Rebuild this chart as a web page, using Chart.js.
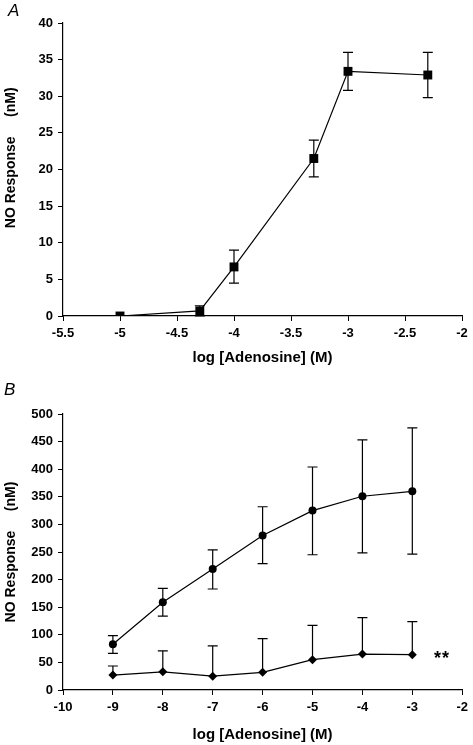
<!DOCTYPE html>
<html>
<head>
<meta charset="utf-8">
<script src="https://cdn.jsdelivr.net/npm/chart.js@4.4.0/dist/chart.umd.min.js"></script>
<style>
  body { margin: 0; background: #fff; width: 473px; height: 745px; position: relative; overflow: hidden; }
  .wrap { position: absolute; left: 0; width: 473px; }
  .lbl { position: absolute; font-family: "Liberation Sans", Arial, sans-serif; color: #000; }
</style>
</head>
<body>
<div class="wrap" style="top:0;height:372px"><canvas id="chartA"></canvas></div>
<div class="wrap" style="top:372px;height:373px"><canvas id="chartB"></canvas></div>
<div class="lbl" style="left:8px;top:1px;font-size:17px;font-style:italic">A</div>
<div class="lbl" style="left:4px;top:380px;font-size:17px;font-style:italic">B</div>
<div class="lbl" style="left:434px;top:648px;font-size:18px;font-weight:bold;letter-spacing:1px">**</div>

<script>
// Panel A data
const doseA = [-5, -4.3, -4, -3.3, -3, -2.3];
const respA = [0, 0.7, 6.7, 21.5, 33.4, 32.9];
const upperA = [0, 1.4, 9, 24, 36, 36];
const lowerA = [0, 0, 4.5, 19, 30.8, 29.8];

// Panel B data
const doseB = [-9, -8, -7, -6, -5, -4, -3];
const respB1 = [83, 159, 219, 280, 325, 351, 360];
const upperB1 = [98.5, 184, 254, 332, 404, 453, 475];
const lowerB1 = [66.5, 134, 183, 229, 245, 248.5, 246];
const respB2 = [27, 33, 25, 32, 55, 65, 64];
const upperB2 = [43.5, 71, 80, 93, 117, 131, 124];

const xTitle = "log [Adenosine] (M)";
const yTitle = "NO Response     (nM)";

const FONT = "'Liberation Sans', Arial, sans-serif";

// draws the error bars under the markers
const errorBars = {
    id: "errorBars",
    beforeDatasetsDraw(chart) {
        let ctx = chart.ctx;
        let xs = chart.scales.x, ys = chart.scales.y;
        ctx.save();
        ctx.strokeStyle = "#000";
        ctx.lineWidth = 1.2;
        chart.data.datasets.forEach(ds => {
            ds.data.forEach((p, i) => {
                let x = xs.getPixelForValue(p.x);
                let y = ys.getPixelForValue(p.y);
                [ds.upper, ds.lower].forEach(arr => {
                    if (!arr || arr[i] === null) return;
                    let ye = ys.getPixelForValue(arr[i]);
                    if (Math.abs(ye - y) < 1) return;
                    ctx.beginPath();
                    ctx.moveTo(x, y);
                    ctx.lineTo(x, ye);
                    ctx.moveTo(x - 5, ye);
                    ctx.lineTo(x + 5, ye);
                    ctx.stroke();
                });
            });
        });
        ctx.restore();
    }
};

function makeSet(xs, ys, upper, lower, style, radius) {
    return {
        data: xs.map((x, i) => ({ x: x, y: ys[i] })),
        upper: upper,
        lower: lower,
        showLine: true,
        borderColor: "#000",
        borderWidth: 1.2,
        backgroundColor: "#000",
        pointStyle: style,
        pointRadius: radius,
        pointBorderWidth: 0,
        tension: 0
    };
}

function axis(min, max, step, title, fixedSize, horizontal, titlePad) {
    return {
        type: "linear",
        min: min,
        max: max,
        afterFit: s => { if (horizontal) s.height = fixedSize; else s.width = fixedSize; },
        ticks: {
            stepSize: step,
            color: "#000",
            padding: 5,
            font: { family: FONT, size: 13, weight: "bold" },
            maxRotation: 0,
            autoSkip: false,
            callback: v => String(v)
        },
        grid: { drawOnChartArea: false, tickLength: 5, color: "#000", lineWidth: 1 },
        border: { display: true, color: "#000", width: 1.2 },
        title: {
            display: true,
            text: title,
            color: "#000",
            font: { family: FONT, size: horizontal ? 15 : 14, weight: "bold" },
            padding: titlePad
        }
    };
}

function baseOptions(xAxis, yAxis, padding) {
    return {
        responsive: true,
        maintainAspectRatio: false,
        animation: false,
        layout: { padding: padding },
        plugins: { legend: { display: false }, tooltip: { enabled: false } },
        scales: { x: xAxis, y: yAxis }
    };
}

new Chart(document.getElementById("chartA"), {
    type: "scatter",
    data: { datasets: [makeSet(doseA, respA, upperA, lowerA, "rect", 6.3)] },
    options: baseOptions(
        axis(-5.5, -2, 0.5, xTitle, 56, true, { top: 0, bottom: 5 }),
        // leading spaces push the title up a little, as in the original
        axis(0, 40, 5, "      " + yTitle, 63, false, { top: 3, bottom: 0 }),
        { top: 23, right: 11, left: 0, bottom: 0 }
    ),
    plugins: [errorBars]
});

new Chart(document.getElementById("chartB"), {
    type: "scatter",
    data: {
        datasets: [
            makeSet(doseB, respB1, upperB1, lowerB1, "circle", 4),
            makeSet(doseB, respB2, upperB2, null, "rectRot", 4.5)
        ]
    },
    options: baseOptions(
        axis(-10, -2, 1, xTitle, 55, true, { top: 0, bottom: 1 }),
        axis(0, 500, 50, yTitle, 63, false, { top: 3, bottom: 0 }),
        { top: 42, right: 10, left: 0, bottom: 0 }
    ),
    plugins: [errorBars]
});
</script>
</body>
</html>
